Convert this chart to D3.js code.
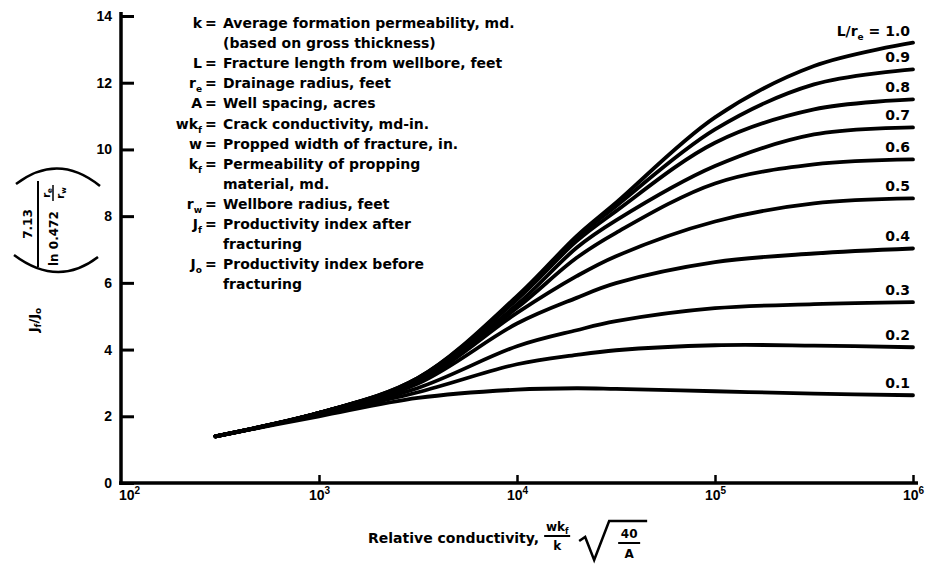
<!DOCTYPE html>
<html>
<head>
<meta charset="utf-8">
<script src="https://cdn.jsdelivr.net/npm/d3@7/dist/d3.min.js"></script>
<style>
body { margin: 0; background: #fff; }
svg { display: block; font-family: "DejaVu Sans", Arial, sans-serif; font-weight: bold; }
</style>
</head>
<body>
<svg width="925" height="566"></svg>
<script>
// relative conductivity (x) and ratio J/Jo * 7.13/ln(0.472 re/rw) per L/re curve
let conductivity = [300, 1000, 3162, 10000, 20000, 31623, 100000, 316228, 1000000]
let curve10 = [1.40, 2.10, 3.15, 5.60, 7.40, 8.40, 10.96, 12.50, 13.20]
let curve09 = [1.40, 2.10, 3.15, 5.55, 7.35, 8.30, 10.60, 11.95, 12.40]
let curve08 = [1.40, 2.10, 3.12, 5.50, 7.25, 8.15, 10.20, 11.20, 11.50]
let curve07 = [1.40, 2.10, 3.10, 5.35, 7.05, 7.87, 9.50, 10.45, 10.66]
let curve06 = [1.40, 2.10, 3.08, 5.25, 6.75, 7.50, 8.98, 9.55, 9.70]
let curve05 = [1.40, 2.10, 3.04, 5.10, 6.20, 6.80, 7.84, 8.38, 8.53]
let curve04 = [1.40, 2.08, 2.98, 4.78, 5.55, 5.99, 6.62, 6.88, 7.03]
let curve03 = [1.40, 2.07, 2.85, 4.10, 4.58, 4.85, 5.24, 5.36, 5.42]
let curve02 = [1.40, 2.05, 2.72, 3.56, 3.84, 3.98, 4.13, 4.12, 4.07]
let curve01 = [1.40, 2.00, 2.55, 2.80, 2.84, 2.82, 2.75, 2.68, 2.63]
let ratioLabels = ['1.0', '0.9', '0.8', '0.7', '0.6', '0.5', '0.4', '0.3', '0.2', '0.1']

let xTicks = [100, 1000, 10000, 100000, 1000000]
let yTicks = [0, 2, 4, 6, 8, 10, 12, 14]

let legendSymbols = [['k', ''], ['', ''], ['L', ''], ['r', 'e'], ['A', ''], ['wk', 'f'], ['w', ''],
    ['k', 'f'], ['', ''], ['r', 'w'], ['J', 'f'], ['', ''], ['J', 'o'], ['', '']]
let legendTexts = ['Average formation permeability, md.', '(based on gross thickness)',
    'Fracture length from wellbore, feet', 'Drainage radius, feet', 'Well spacing, acres',
    'Crack conductivity, md-in.', 'Propped width of fracture, in.', 'Permeability of propping',
    'material, md.', 'Wellbore radius, feet', 'Productivity index after', 'fracturing',
    'Productivity index before', 'fracturing']

let curves = [curve10, curve09, curve08, curve07, curve06, curve05, curve04, curve03, curve02, curve01]

let svg = d3.select('svg')
let xScale = d3.scaleLog().domain([100, 1000000]).range([121, 913])
let yScale = d3.scaleLinear().domain([0, 14]).range([483, 16])

let line = d3.line()
    .x((d, i) => xScale(conductivity[i]))
    .y(d => yScale(d))
    .curve(d3.curveCatmullRom.alpha(0.5))

// curves
svg.append('g')
    .selectAll('path')
    .data(curves)
    .enter()
    .append('path')
    .attr('d', d => line(d))
    .attr('fill', 'none')
    .attr('stroke', '#000')
    .attr('stroke-width', 3.8)
    .attr('stroke-linecap', 'round')

// curve labels
let labels = svg.append('g')
    .selectAll('text')
    .data(curves)
    .enter()
    .append('text')
    .attr('x', 910)
    .attr('y', d => yScale(d[d.length - 1]) - 7)
    .attr('text-anchor', 'end')
    .attr('font-size', 14)
labels.each(function (d, i) {
    let t = d3.select(this)
    if (i === 0) {
        t.append('tspan').text('L/r')
        t.append('tspan').attr('font-size', 9).attr('dy', 4).text('e')
        t.append('tspan').attr('dy', -4).text(' = ' + ratioLabels[i])
    } else {
        t.text(ratioLabels[i])
    }
})

// axes
let yAxis = d3.axisLeft(yScale)
    .tickValues(yTicks)
    .tickSizeInner(-13)
    .tickSizeOuter(0)
    .tickPadding(9)
let gy = svg.append('g').attr('transform', 'translate(121,0)').call(yAxis)
gy.select('.domain').attr('stroke-width', 3.5).attr('d', 'M0,12V485')
gy.selectAll('.tick line').attr('stroke-width', 3)
gy.selectAll('.tick text').attr('font-size', 14).attr('font-family', '"Liberation Sans", Arial, sans-serif')

let xAxis = d3.axisBottom(xScale)
    .tickValues(xTicks)
    .tickSizeInner(-8)
    .tickSizeOuter(0)
    .tickPadding(7)
    .tickFormat(() => '')
let gx = svg.append('g').attr('transform', 'translate(0,483)').call(xAxis)
gx.select('.domain').attr('stroke-width', 3.5).attr('d', 'M119,0H918')
gx.selectAll('.tick line').attr('stroke-width', 2.5)
gx.selectAll('.tick text')
    .attr('font-size', 14)
    .attr('font-family', '"Liberation Sans", Arial, sans-serif')
    .each(function (d) {
        let t = d3.select(this)
        t.append('tspan').text('10')
        t.append('tspan').attr('font-size', 10).attr('dy', -6).text(Math.round(Math.log10(d)))
    })
gx.selectAll('.tick').filter(d => d === 100).select('line').remove()
gx.selectAll('.tick').filter(d => d === 100).select('text').attr('x', 8)
svg.selectAll('.domain, .tick line').attr('stroke', '#000')
svg.selectAll('.tick text').attr('fill', '#000')

// legend of symbols
let legend = svg.append('g').attr('font-size', 14)
legendTexts.forEach((txt, i) => {
    let y = 28 + i * 20.1
    let sym = legendSymbols[i]
    if (sym[0] !== '') {
        let s = legend.append('text').attr('x', 202).attr('y', y).attr('text-anchor', 'end')
        s.append('tspan').text(sym[0])
        if (sym[1] !== '') s.append('tspan').attr('font-size', 9).attr('dy', 4).text(sym[1])
        legend.append('text').attr('x', 205).attr('y', y).text('=')
    }
    legend.append('text').attr('x', 223).attr('y', y).text(txt)
})

// x axis title
let xt = svg.append('g').attr('font-size', 14)
let rel = xt.append('text').attr('x', 368).attr('y', 543).text('Relative conductivity,')
let relEnd = 368 + rel.node().getComputedTextLength()
let fx = relEnd + 18
xt.append('text').attr('x', fx).attr('y', 531).attr('text-anchor', 'middle').attr('font-size', 12)
    .call(t => { t.append('tspan').text('wk'); t.append('tspan').attr('font-size', 8).attr('dy', 3).text('f') })
xt.append('line').attr('x1', fx - 13).attr('x2', fx + 13).attr('y1', 536).attr('y2', 536)
    .attr('stroke', '#000').attr('stroke-width', 2)
xt.append('text').attr('x', fx).attr('y', 550).attr('text-anchor', 'middle').attr('font-size', 12).text('k')
let sx = fx + 22
let rad = d3.path()
rad.moveTo(sx, 541)
rad.lineTo(sx + 6, 537)
rad.lineTo(sx + 15, 560)
rad.lineTo(sx + 30, 521)
rad.lineTo(sx + 68, 521)
xt.append('path').attr('d', rad.toString()).attr('fill', 'none').attr('stroke', '#000').attr('stroke-width', 2.5)
xt.append('text').attr('x', sx + 50).attr('y', 538).attr('text-anchor', 'middle').attr('font-size', 12).text('40')
xt.append('line').attr('x1', sx + 39).attr('x2', sx + 61).attr('y1', 543).attr('y2', 543)
    .attr('stroke', '#000').attr('stroke-width', 2)
xt.append('text').attr('x', sx + 50).attr('y', 558).attr('text-anchor', 'middle').attr('font-size', 12).text('A')

// y axis title (rotated)
let yt = svg.append('g').attr('transform', 'rotate(-90)').attr('font-size', 13)
yt.append('text').attr('x', -320).attr('y', 38).attr('text-anchor', 'middle')
    .call(t => {
        t.append('tspan').text('J')
        t.append('tspan').attr('font-size', 9).attr('dy', 3).text('f')
        t.append('tspan').attr('dy', -3).text('/J')
        t.append('tspan').attr('font-size', 9).attr('dy', 3).text('o')
    })
yt.append('text').attr('x', -224).attr('y', 32).attr('text-anchor', 'middle').attr('font-size', 12).text('7.13')
yt.append('line').attr('x1', -267).attr('x2', -181).attr('y1', 38).attr('y2', 38)
    .attr('stroke', '#000').attr('stroke-width', 2)
yt.append('text').attr('x', -266).attr('y', 58).attr('font-size', 12).text('ln 0.472')
yt.append('text').attr('x', -193).attr('y', 50).attr('text-anchor', 'middle').attr('font-size', 10)
    .call(t => { t.append('tspan').text('r'); t.append('tspan').attr('font-size', 7).attr('dy', 2).text('e') })
yt.append('line').attr('x1', -201).attr('x2', -185).attr('y1', 53).attr('y2', 53)
    .attr('stroke', '#000').attr('stroke-width', 1.5)
yt.append('text').attr('x', -193).attr('y', 64).attr('text-anchor', 'middle').attr('font-size', 10)
    .call(t => { t.append('tspan').text('r'); t.append('tspan').attr('font-size', 7).attr('dy', 2).text('w') })

let paren = d3.path()
paren.moveTo(14, 255)
paren.quadraticCurveTo(58, 288, 98, 257)
paren.moveTo(16, 184)
paren.quadraticCurveTo(58, 152, 100, 186)
svg.append('path').attr('d', paren.toString()).attr('fill', 'none').attr('stroke', '#000').attr('stroke-width', 2.5)
</script>
</body>
</html>
